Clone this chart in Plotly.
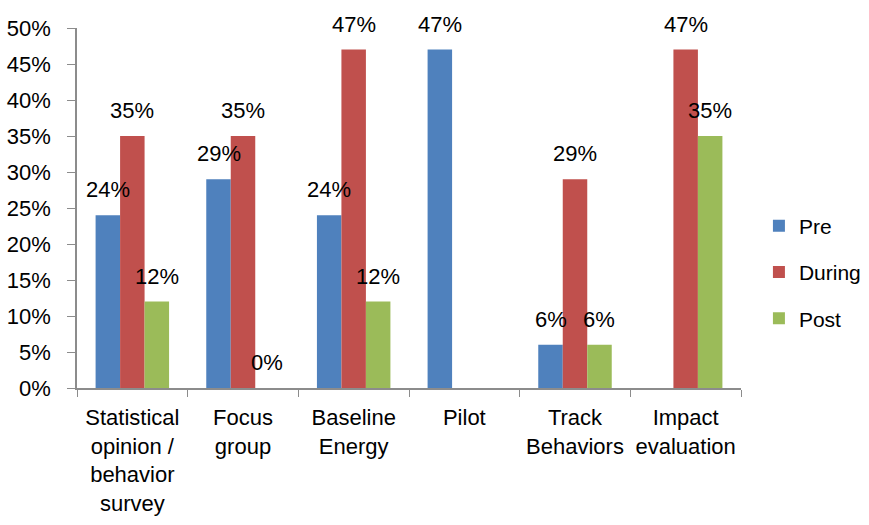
import plotly.graph_objects as go

# Share of programs using each evaluation method, by project phase
categories = [
    "Statistical<br>opinion /<br>behavior<br>survey",
    "Focus<br>group",
    "Baseline<br>Energy",
    "Pilot",
    "Track<br>Behaviors",
    "Impact<br>evaluation",
]
series_names = ["Pre", "During", "Post"]
pre = [0.24, 0.29, 0.24, 0.47, 0.06, None]
during = [0.35, 0.35, 0.47, None, 0.29, 0.47]
post = [0.12, 0.00, 0.12, None, 0.06, 0.35]
y_ticks = [0.0, 0.05, 0.10, 0.15, 0.20, 0.25, 0.30, 0.35, 0.40, 0.45, 0.50]

colors = ["#4F81BD", "#C0504D", "#9BBB59"]
FONT = "Liberation Sans, Arial, sans-serif"
FS = 22
BARGAP = 0.336

fig = go.Figure()
all_values = [pre, during, post]
for name, vals, col in zip(series_names, all_values, colors):
    fig.add_trace(go.Bar(
        name=name,
        x=categories,
        y=vals,
        marker=dict(color=col, line=dict(width=0)),
        legendgroup=name,
    ))

# value labels, one per existing bar, placed above that bar's slot in its group
slot = (1 - BARGAP) / len(series_names)
for i, vals in enumerate(all_values):
    off = (i - (len(series_names) - 1) / 2) * slot
    for j, v in enumerate(vals):
        if v is None:
            continue
        fig.add_annotation(
            x=j + off, y=v, xref="x", yref="y",
            text=f"{round(v * 100)}%",
            showarrow=False, yanchor="bottom", xanchor="center",
            yshift=11,
            font=dict(family=FONT, size=FS, color="#000000"),
        )

fig.update_layout(
    width=869, height=525,
    margin=dict(l=77, r=128, t=28, b=137, autoexpand=False),
    paper_bgcolor="white", plot_bgcolor="white",
    barmode="group", bargap=BARGAP, bargroupgap=0,
    font=dict(family=FONT, size=FS, color="#000000"),
    showlegend=True,
    legend=dict(
        x=1.027, y=0.322, xanchor="left", yanchor="middle",
        font=dict(family=FONT, size=21, color="#000000"),
        tracegroupgap=16,
        borderwidth=0,
        bgcolor="rgba(0,0,0,0)",
    ),
    xaxis=dict(
        type="category",
        tickson="boundaries",
        tickangle=0,
        automargin=False,
        ticklabelstandoff=9,
        showline=True, linecolor="#8C8C8C", linewidth=1.5,
        ticks="outside", ticklen=7, tickcolor="#8C8C8C",
        showgrid=False, zeroline=False,
        tickfont=dict(family=FONT, size=FS, color="#000000"),
    ),
    yaxis=dict(
        range=[0, 0.5],
        automargin=False,
        ticklabelstandoff=12,
        tickmode="array", tickvals=y_ticks,
        tickformat=".0%",
        showline=True, linecolor="#8C8C8C", linewidth=1.5,
        ticks="outside", ticklen=8, tickcolor="#8C8C8C",
        showgrid=False, zeroline=False,
        tickfont=dict(family=FONT, size=FS, color="#000000"),
    ),
)

fig.write_html("out.html")
